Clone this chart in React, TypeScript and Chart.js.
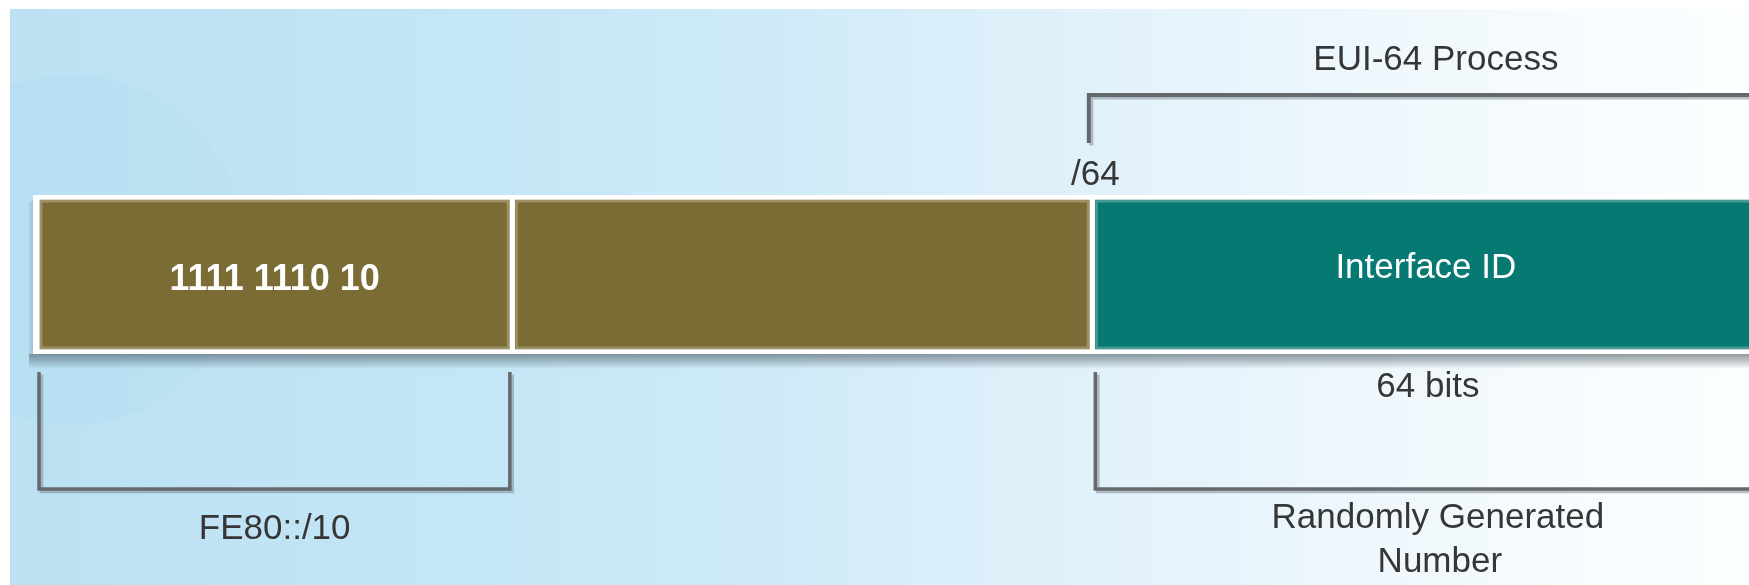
import React, { useEffect, useRef } from "react";
import { Chart, registerables } from "chart.js";

Chart.register(...registerables);

// ---- data ----
const categories = ["IPv6 link-local address"];
const segmentNames = ["Prefix", "Remaining prefix bits", "Interface ID"];
const segmentLabels = ["1111 1110 10", "", "Interface ID"];
const segmentBits = [10, 54, 64];
// drawn widths of the segments, in diagram units (prefix segment = 10)
const segmentSpans = [10, 12.1, 14];
const segmentColors = ["#7b6c35", "#7b6c35", "#077973"];
const axisMax = 35.8;
const prefixText = "FE80::/10";
const boundaryText = "/" + (segmentBits[0] + segmentBits[1]);
const euiText = "EUI-64 Process";
const bitsText = segmentBits[2] + " bits";
const randomText = ["Randomly Generated", "Number"];

const FONT = '"Liberation Sans", Arial, Helvetica, sans-serif';
const TEXT_DARK = "#363636";
const LINE_DARK = "#66696c";
const LINE_SHADOW = "rgba(120,132,142,0.5)";

function drawBracket(ctx: CanvasRenderingContext2D, pts: number[][], width: number) {
  ctx.save();
  ctx.lineJoin = "miter";
  ctx.lineCap = "butt";
  ctx.strokeStyle = LINE_SHADOW;
  ctx.lineWidth = width;
  ctx.beginPath();
  pts.forEach((p, i) => (i === 0 ? ctx.moveTo(p[0] + 2.5, p[1] + 2.5) : ctx.lineTo(p[0] + 2.5, p[1] + 2.5)));
  ctx.stroke();
  ctx.strokeStyle = LINE_DARK;
  ctx.beginPath();
  pts.forEach((p, i) => (i === 0 ? ctx.moveTo(p[0], p[1]) : ctx.lineTo(p[0], p[1])));
  ctx.stroke();
  ctx.restore();
}

function segGeom(chart: any, i: number) {
  const el = chart.getDatasetMeta(i).data[0];
  const p = el.getProps(["x", "y", "base", "height"], true);
  const left = Math.min(p.x, p.base);
  const right = Math.max(p.x, p.base);
  return { left, right, top: p.y - p.height / 2, bottom: p.y + p.height / 2, cy: p.y };
}

const diagramPlugin = {
  id: "diagram",
  beforeDraw(chart: any) {
    const { ctx, width, height } = chart;
    ctx.save();
    ctx.fillStyle = "#ffffff";
    ctx.fillRect(0, 0, width, height);
    const g = ctx.createLinearGradient(10, 0, width, 0);
    g.addColorStop(0, "#bbe1f3");
    g.addColorStop(0.28, "#c5e6f6");
    g.addColorStop(0.45, "#d0ebf8");
    g.addColorStop(0.58, "#def0fa");
    g.addColorStop(0.75, "#ecf6fc");
    g.addColorStop(0.92, "#f8fcfe");
    g.addColorStop(1, "#fcfeff");
    ctx.fillStyle = g;
    ctx.fillRect(10, 9, width - 10, height - 9);
    ctx.beginPath();
    ctx.rect(10, 9, width - 10, height - 9);
    ctx.clip();
    ctx.beginPath();
    ctx.arc(70, 250, 175, 0, Math.PI * 2);
    ctx.fillStyle = "rgba(140,200,235,0.08)";
    ctx.fill();
    ctx.restore();
  },
  beforeDatasetsDraw(chart: any) {
    const { ctx, width } = chart;
    const a = segGeom(chart, 0);
    ctx.save();
    const sg = ctx.createLinearGradient(0, a.bottom, 0, a.bottom + 15);
    sg.addColorStop(0, "rgba(75,90,100,0.6)");
    sg.addColorStop(0.45, "rgba(75,90,100,0.35)");
    sg.addColorStop(1, "rgba(75,90,100,0)");
    ctx.fillStyle = sg;
    ctx.fillRect(a.left - 4, a.bottom, width - a.left + 4, 15);
    const lg = ctx.createLinearGradient(a.left - 5, 0, a.left, 0);
    lg.addColorStop(0, "rgba(75,90,100,0)");
    lg.addColorStop(1, "rgba(75,90,100,0.25)");
    ctx.fillStyle = lg;
    ctx.fillRect(a.left - 5, a.top + 6, 5, a.bottom - a.top - 6);
    ctx.restore();
  },
  afterDatasetsDraw(chart: any) {
    const { ctx, width } = chart;
    const x = chart.scales.x;
    const segs = segmentNames.map((_, i) => segGeom(chart, i));
    const barTop = segs[0].top;
    const barBottom = segs[0].bottom;
    const barLeft = segs[0].left;

    ctx.save();
    segs.forEach((s, i) => {
      const b = (chart.data.datasets[i] as any).borderWidth;
      ctx.strokeStyle = "rgba(255,255,255,0.25)";
      ctx.lineWidth = 2.5;
      ctx.strokeRect(
        s.left + b.left + 1.25,
        s.top + b.top + 1.25,
        s.right - s.left - b.left - b.right - 2.5,
        s.bottom - s.top - b.top - b.bottom - 2.5
      );
    });

    ctx.fillStyle = "#ffffff";
    ctx.textAlign = "center";
    ctx.textBaseline = "alphabetic";
    ctx.font = "bold 36px " + FONT;
    ctx.fillText(segmentLabels[0], (segs[0].left + segs[0].right) / 2 + 2, barTop + 95);
    const teal0 = segmentSpans[0] + segmentSpans[1];
    const tealCenter = x.getPixelForValue(teal0 + segmentSpans[2] / 2);
    ctx.font = "35px " + FONT;
    ctx.fillText(segmentLabels[2], tealCenter - 2, barTop + 83);

    const boundaryPx = x.getPixelForValue(teal0);
    const prefixEnd = x.getPixelForValue(segmentSpans[0]);
    drawBracket(ctx, [[width + 10, 95], [boundaryPx - 3.5, 95], [boundaryPx - 3.5, 143]], 4);
    drawBracket(ctx, [[barLeft + 6, barBottom + 18], [barLeft + 6, barBottom + 135], [prefixEnd - 2.5, barBottom + 135], [prefixEnd - 2.5, barBottom + 18]], 3.5);
    drawBracket(ctx, [[boundaryPx + 3, barBottom + 18], [boundaryPx + 3, barBottom + 135], [width + 10, barBottom + 135]], 3.5);

    ctx.fillStyle = TEXT_DARK;
    ctx.font = "35px " + FONT;
    ctx.fillText(euiText, tealCenter + 8, 70);
    ctx.fillText(boundaryText, boundaryPx + 3, 185);
    ctx.fillText(bitsText, tealCenter, barBottom + 43);
    ctx.fillText(prefixText, (barLeft + prefixEnd) / 2 + 2, 539);
    ctx.fillText(randomText[0], tealCenter + 10, 528);
    ctx.fillText(randomText[1], tealCenter + 12, 572);
    ctx.restore();
  },
};

export default function App() {
  const ref = useRef<HTMLCanvasElement | null>(null);
  useEffect(() => {
    document.body.style.margin = "0";
    const canvas = ref.current;
    if (!canvas) return;
    const borderWidths = [
      { left: 7, top: 5, right: 3, bottom: 5 },
      { left: 3, top: 5, right: 3, bottom: 5 },
      { left: 3, top: 5, right: 0, bottom: 5 },
    ];
    const chart = new Chart(canvas, {
      type: "bar",
      data: {
        labels: categories,
        datasets: segmentNames.map((name, i) => ({
          label: name,
          data: [segmentSpans[i]],
          backgroundColor: segmentColors[i],
          borderColor: "#ffffff",
          borderWidth: borderWidths[i],
          borderSkipped: false,
          barPercentage: 1,
          categoryPercentage: 1,
        })),
      },
      options: {
        indexAxis: "y",
        responsive: false,
        maintainAspectRatio: false,
        animation: false,
        events: [],
        layout: { padding: { left: 33, right: 0, top: 195, bottom: 231 } },
        scales: {
          x: { type: "linear", stacked: true, min: 0, max: axisMax, display: false },
          y: { type: "category", stacked: true, display: false },
        },
        plugins: {
          legend: { display: false },
          tooltip: { enabled: false },
          title: { display: false },
        },
      },
      plugins: [diagramPlugin],
    } as any);
    return () => chart.destroy();
  }, []);
  return (
    <div style={{ width: 1749, height: 585 }}>
      <canvas ref={ref} width={1749} height={585} style={{ display: "block", width: 1749, height: 585 }} />
    </div>
  );
}
